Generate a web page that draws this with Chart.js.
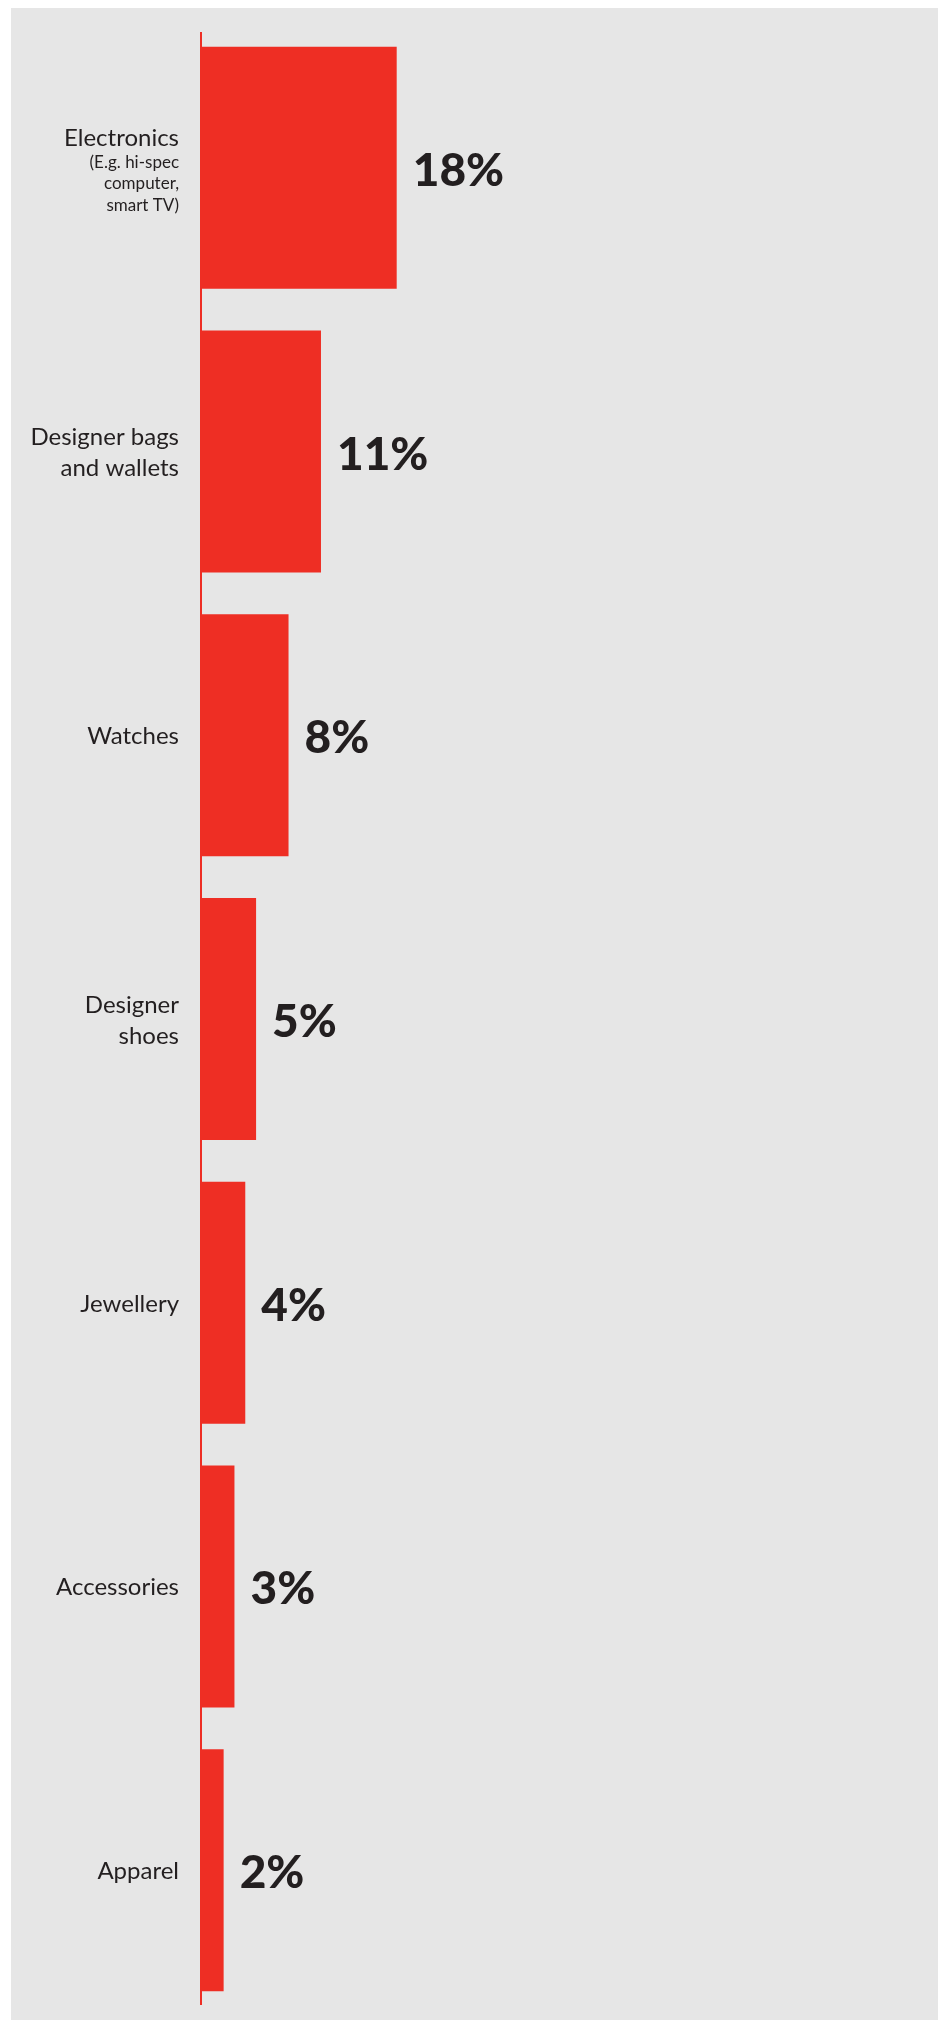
<!DOCTYPE html>
<html>
<head>
<meta charset="utf-8">
<script src="https://cdn.jsdelivr.net/npm/chart.js@4.4.1/dist/chart.umd.min.js"></script>
<style>
  html,body{margin:0;padding:0;background:#fff;}
  #wrap{position:relative;width:938px;height:2020px;}
</style>
</head>
<body>
<div id="wrap"><canvas id="itemsChart"></canvas></div>
<script>
// share of items, %
const categories = [
  ["Electronics"],
  ["Designer bags","and wallets"],
  ["Watches"],
  ["Designer","shoes"],
  ["Jewellery"],
  ["Accessories"],
  ["Apparel"]
];
const notes = [["(E.g. hi-spec","computer,","smart TV)"],null,null,null,null,null,null];
const values = [18,11,8,5,4,3,2];

const RED = "#ee2e24";
const INK = "#231f20";

// grey panel behind everything
const panelBg = {
  id:"panelBg",
  beforeDraw(chart){
    const {ctx,width,height} = chart;
    ctx.save();
    ctx.fillStyle = "#e6e6e6";
    ctx.fillRect(11,8,width-11,height-8);
    ctx.restore();
  }
};

// vertical axis line, category names and value labels
const labelsPlugin = {
  id:"labelsPlugin",
  afterDatasetsDraw(chart){
    const {ctx,chartArea} = chart;
    const bars = chart.getDatasetMeta(0).data;
    ctx.save();
    ctx.strokeStyle = RED;
    ctx.lineWidth = 2;
    ctx.beginPath();
    ctx.moveTo(chartArea.left-1,chartArea.top+6);
    ctx.lineTo(chartArea.left-1,chartArea.bottom-7);
    ctx.stroke();

    ctx.fillStyle = INK;
    ctx.textAlign = "right";
    ctx.textBaseline = "alphabetic";
    const lx = chartArea.left-23;
    bars.forEach((bar,i)=>{
      const cy = bar.y;
      const lines = categories[i];
      ctx.font = "400 24px Lato";
      if(notes[i]){
        ctx.fillText(lines[0],lx,cy-22);
        ctx.font = "400 17px Lato";
        notes[i].forEach((t,k)=>ctx.fillText(t,lx,cy+k*21.5));
      }else{
        const n = lines.length;
        lines.forEach((t,k)=>ctx.fillText(t,lx,cy+9+(k-(n-1)/2)*31));
      }
    });

    ctx.textAlign = "left";
    ctx.font = "900 46px Lato";
    bars.forEach((bar,i)=>{
      ctx.fillText(values[i]+"%",bar.x+16,bar.y+18);
    });
    ctx.restore();
  }
};

new Chart(document.getElementById("itemsChart"),{
  type:"bar",
  data:{
    labels:categories.map(l=>l.join(" ")),
    datasets:[{data:values,backgroundColor:RED,borderWidth:0,barPercentage:0.853,categoryPercentage:1}]
  },
  options:{
    indexAxis:"y",
    responsive:true,
    maintainAspectRatio:false,
    animation:false,
    layout:{padding:{left:202,right:87,top:26,bottom:8}},
    plugins:{legend:{display:false},tooltip:{enabled:false}},
    scales:{
      x:{display:false,min:0,max:60},
      y:{display:false}
    }
  },
  plugins:[panelBg,labelsPlugin]
});
</script>
</body>
</html>
